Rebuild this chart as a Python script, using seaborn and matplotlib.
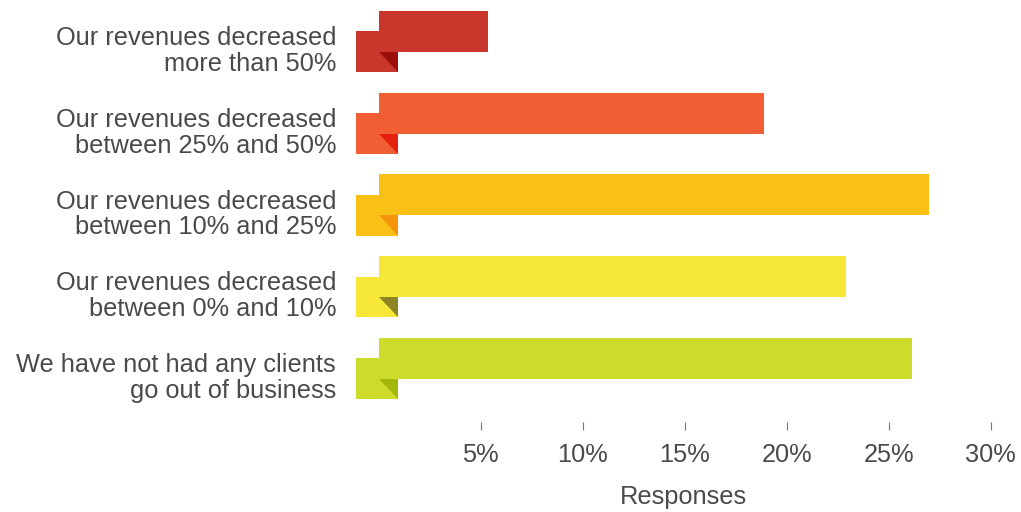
import matplotlib
matplotlib.use("Agg")
import matplotlib.pyplot as plt
from matplotlib.patches import Rectangle, Polygon
import seaborn as sns
import pandas as pd
import numpy as np

categories = [
    "Our revenues decreased\nmore than 50%",
    "Our revenues decreased\nbetween 25% and 50%",
    "Our revenues decreased\nbetween 10% and 25%",
    "Our revenues decreased\nbetween 0% and 10%",
    "We have not had any clients\ngo out of business",
]
values = [5.35, 18.9, 27.0, 22.9, 26.15]
bar_colors = ["#C9372C", "#F15E33", "#F9C116", "#F7E837", "#CDDB2B"]
fold_colors = ["#9C0E0B", "#E3210E", "#F4940B", "#8D8423", "#A3B70B"]
xticks = [5, 10, 15, 20, 25, 30]
xticklabels = ["5%", "10%", "15%", "20%", "25%", "30%"]

sns.set_theme(style="white")
plt.rcParams["font.family"] = ["Liberation Sans", "DejaVu Sans"]

df = pd.DataFrame({"cat": categories, "val": values})

fig = plt.figure(figsize=(10.21, 5.12), dpi=100)
ax = fig.add_axes([355.5 / 1021, 90 / 512, (1011 - 355.5) / 1021, 422 / 512])

sns.barplot(data=df, y="cat", x="val", hue="cat", palette=bar_colors,
            width=0.5, orient="h", legend=False, ax=ax, saturation=1,
            linewidth=0, edgecolor="none")

# folded-ribbon decoration derived from each bar
fold_dx = 1.14
for patch, fc, dc in zip(ax.patches, bar_colors, fold_colors):
    patch.set_linewidth(0)
    x0 = patch.get_x()
    y0 = patch.get_y()
    h = patch.get_height()
    yc = y0 + h / 2
    sq = Rectangle((x0 - fold_dx, yc), fold_dx + 0.95, h, facecolor=fc,
                   edgecolor="none", linewidth=0, zorder=1)
    ax.add_patch(sq)
    tri = Polygon([(x0, y0 + h), (x0 + 0.95, y0 + h), (x0 + 0.95, yc + h)],
                  closed=True, facecolor=dc, edgecolor="none", linewidth=0, zorder=3)
    ax.add_patch(tri)
    patch.set_zorder(2)

ax.set_xlim(-1.14, 31.0)
ax.set_ylim(4.78, -0.385)
n = len(categories)
ax.set_yticks(np.arange(n) + 0.2)
ax.set_yticklabels(categories, fontsize=18.3, color="#4a4a4a",
                   ha="right", linespacing=1.08)
ax.set_xticks(xticks)
ax.set_xticklabels(xticklabels, fontsize=18.3, color="#4a4a4a")
ax.tick_params(axis="x", bottom=True, length=6, width=0.8, color="#777777", pad=9)
ax.tick_params(axis="y", left=False, length=0, pad=14)
ax.set_ylabel("")
ax.set_xlabel("Responses", fontsize=18.3, color="#4a4a4a", labelpad=13)
for s in ax.spines.values():
    s.set_visible(False)

fig.savefig("out.png", dpi=100)
